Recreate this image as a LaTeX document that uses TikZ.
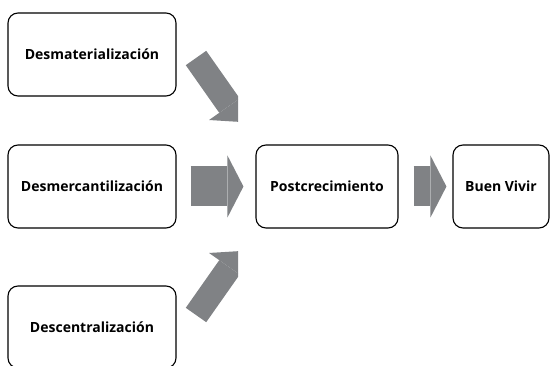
\documentclass[tikz,border=0pt]{standalone}
\usepackage{fontspec}
\setmainfont{Open Sans}
\usepackage{tikz}
\usetikzlibrary{positioning,arrows.meta}

\definecolor{flechagris}{RGB}{128,130,133}

\tikzset{
  caja/.style={draw, line width=1.1pt, rounded corners=10pt, minimum height=83pt, font=\bfseries\fontsize{14}{16}\selectfont},
  flecha/.style={draw=flechagris, line width=40pt, -{Triangle[width=62pt,length=16pt,line width=0pt]}},
  diagonal/.style={draw=flechagris, line width=25pt, -{Triangle[width=50pt,length=20pt,line width=0pt]}}
}

\begin{document}
\begin{tikzpicture}[x=1pt,y=-1pt]
\useasboundingbox (0,0) rectangle (550,366);
\clip (0,0) rectangle (550,366);

% cajas
\node[caja, minimum width=168pt] (desmat) at (92,54.5) {Desmaterialización};
\node[caja, minimum width=168pt] (desmerc) at (92,186.5) {Desmercantilización};
\node[caja, minimum width=168pt, minimum height=82pt] (descent) at (92,327) {Descentralización};
\node[caja, minimum width=142pt] (post) at (327,186.5) {Postcrecimiento};
\node[caja, minimum width=96pt] (buen) at (501,186.5) {Buen Vivir};

% flechas horizontales
\draw[flecha, shorten <=14pt, shorten >=12pt] (desmerc) -- (post);
\draw[flecha, shorten <=15pt, shorten >=6pt] (post) -- (buen);

% flechas diagonales
\coordinate (t1) at (196,58);
\coordinate (h1) at (241,122);
\coordinate (t3) at (196,315);
\coordinate (h3) at (241,251);
\begin{scope}
\clip (0,0) rectangle (238,366);
\draw[diagonal] (t1) -- (h1);
\draw[diagonal] (t3) -- (h3);
\end{scope}
\end{tikzpicture}
\end{document}
